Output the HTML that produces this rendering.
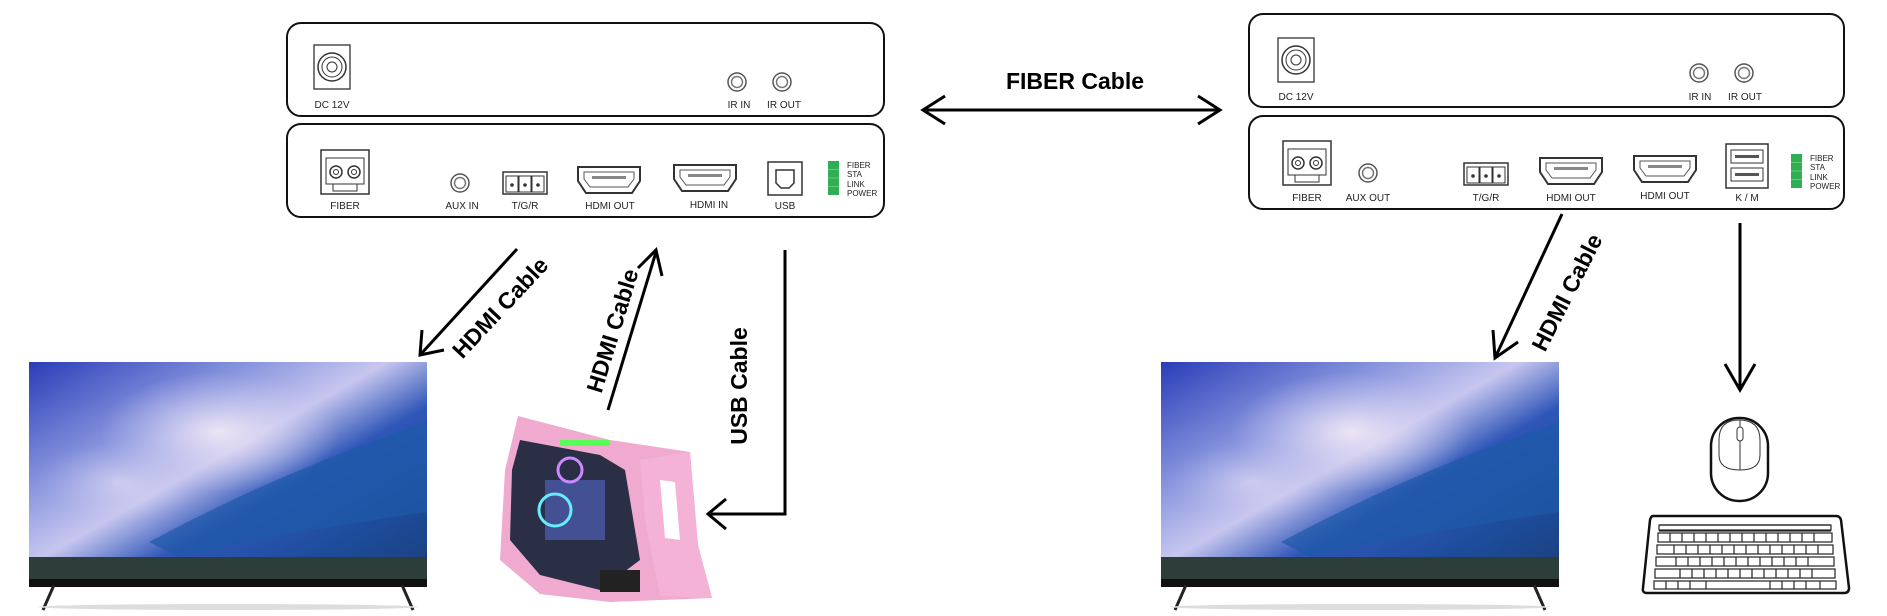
<!DOCTYPE html>
<html><head><meta charset="utf-8"><style>
html,body{margin:0;padding:0;background:#fff}
svg{display:block}
.l{font-family:"Liberation Sans",sans-serif;font-size:10px;fill:#222;text-anchor:middle}
.s{font-family:"Liberation Sans",sans-serif;font-size:8px;fill:#222}
.b{font-family:"Liberation Sans",sans-serif;font-weight:bold;font-size:23px;fill:#000;text-anchor:middle}
</style></head><body>
<svg width="1887" height="616" viewBox="0 0 1887 616" xmlns="http://www.w3.org/2000/svg">
<defs>
<linearGradient id="sky" x1="0" y1="0" x2="1" y2="1">
<stop offset="0" stop-color="#2a3db8"/><stop offset="0.3" stop-color="#8f9be0"/><stop offset="0.45" stop-color="#c7c6ef"/><stop offset="0.6" stop-color="#2f56b8"/><stop offset="0.8" stop-color="#1d4c9a"/><stop offset="1" stop-color="#1b3d78"/>
</linearGradient>
<radialGradient id="cl" cx="0.5" cy="0.5" r="0.5"><stop offset="0" stop-color="#f4eaf6" stop-opacity="0.9"/><stop offset="1" stop-color="#c8c8f0" stop-opacity="0"/></radialGradient>
<g id="tv">
<rect x="0" y="0" width="398" height="225" fill="url(#sky)"/>
<ellipse cx="190" cy="70" rx="120" ry="60" fill="url(#cl)"/>
<ellipse cx="90" cy="120" rx="80" ry="40" fill="url(#cl)" opacity="0.5"/>
<path d="M120 180 Q250 110 398 60 L398 150 Q260 170 150 195Z" fill="#1e5aa8" opacity="0.7"/>
<rect x="0" y="195" width="398" height="22" fill="#2d3e3a"/>
<rect x="0" y="217" width="398" height="8" fill="#111"/>
<path d="M25 223 L14 248 M373 223 L384 248" stroke="#222" stroke-width="3"/>
<ellipse cx="199" cy="245" rx="190" ry="3" fill="#ddd"/>
</g>
<g id="hdmi"><path d="M0 0 H62 V14 L54 26 H8 L0 14Z" fill="#fff" stroke="#333" stroke-width="2"/><path d="M6 5 H56 V12 L50 20 H12 L6 12Z" fill="none" stroke="#555"/><rect x="14" y="9" width="34" height="3" fill="#888"/></g>
<g id="fib"><rect x="0" y="0" width="48" height="44" fill="#fff" stroke="#333" stroke-width="1.5"/><rect x="5" y="8" width="38" height="26" fill="none" stroke="#333"/><circle cx="15" cy="22" r="6" fill="none" stroke="#333" stroke-width="1.5"/><circle cx="15" cy="22" r="2.5" fill="none" stroke="#333"/><circle cx="33" cy="22" r="6" fill="none" stroke="#333" stroke-width="1.5"/><circle cx="33" cy="22" r="2.5" fill="none" stroke="#333"/><rect x="12" y="34" width="24" height="7" fill="none" stroke="#333"/></g>
<g id="jack"><circle r="9" fill="#fff" stroke="#555" stroke-width="1.5"/><circle r="5.5" fill="none" stroke="#777" stroke-width="1.5"/></g>
<g id="dc"><rect x="0" y="0" width="36" height="44" fill="#fff" stroke="#333" stroke-width="1.3"/><circle cx="18" cy="22" r="14" fill="none" stroke="#333" stroke-width="1.5"/><circle cx="18" cy="22" r="10" fill="none" stroke="#333"/><circle cx="18" cy="22" r="5" fill="none" stroke="#333"/></g>
<g id="tgr"><rect x="0" y="0" width="44" height="22" fill="#fff" stroke="#333" stroke-width="1.5"/><rect x="3" y="4" width="12" height="16" fill="none" stroke="#333"/><rect x="16" y="4" width="12" height="16" fill="none" stroke="#333"/><rect x="29" y="4" width="12" height="16" fill="none" stroke="#333"/><circle cx="9" cy="13" r="1.8" fill="#333"/><circle cx="22" cy="13" r="1.8" fill="#333"/><circle cx="35" cy="13" r="1.8" fill="#333"/></g>
<g id="led"><rect x="0" y="0" width="11" height="34" fill="#2fae55"/><line x1="0" y1="8.5" x2="11" y2="8.5" stroke="#6c6"/><line x1="0" y1="17" x2="11" y2="17" stroke="#6c6"/><line x1="0" y1="25.5" x2="11" y2="25.5" stroke="#6c6"/>
<text class="s" x="19" y="7">FIBER</text><text class="s" x="19" y="16">STA</text><text class="s" x="19" y="26">LINK</text><text class="s" x="19" y="35">POWER</text></g>
</defs>

<!-- LEFT DEVICE -->
<rect x="287" y="23" width="597" height="93" rx="14" fill="#fff" stroke="#111" stroke-width="2"/>
<rect x="287" y="124" width="597" height="93" rx="14" fill="#fff" stroke="#111" stroke-width="2"/>
<use href="#dc" x="314" y="45"/><text class="l" x="332" y="108">DC 12V</text>
<use href="#jack" x="737" y="82"/><text class="l" x="739" y="108">IR IN</text>
<use href="#jack" x="782" y="82"/><text class="l" x="784" y="108">IR OUT</text>
<use href="#fib" x="321" y="150"/><text class="l" x="345" y="209">FIBER</text>
<use href="#jack" x="460" y="183"/><text class="l" x="462" y="209">AUX IN</text>
<use href="#tgr" x="503" y="172"/><text class="l" x="525" y="209">T/G/R</text>
<use href="#hdmi" x="578" y="167"/><text class="l" x="610" y="209">HDMI OUT</text>
<use href="#hdmi" x="674" y="165"/><text class="l" x="709" y="208">HDMI IN</text>
<rect x="768" y="162" width="34" height="33" fill="#fff" stroke="#333" stroke-width="1.5"/><path d="M776 170 H794 V183 L789 188 H781 L776 183Z" fill="none" stroke="#333" stroke-width="1.5"/>
<text class="l" x="785" y="209">USB</text>
<use href="#led" x="828" y="161"/>

<!-- RIGHT DEVICE -->
<rect x="1249" y="14" width="595" height="93" rx="14" fill="#fff" stroke="#111" stroke-width="2"/>
<rect x="1249" y="116" width="595" height="93" rx="14" fill="#fff" stroke="#111" stroke-width="2"/>
<use href="#dc" x="1278" y="38"/><text class="l" x="1296" y="100">DC 12V</text>
<use href="#jack" x="1699" y="73"/><text class="l" x="1700" y="100">IR IN</text>
<use href="#jack" x="1744" y="73"/><text class="l" x="1745" y="100">IR OUT</text>
<use href="#fib" x="1283" y="141"/><text class="l" x="1307" y="201">FIBER</text>
<use href="#jack" x="1368" y="173"/><text class="l" x="1368" y="201">AUX OUT</text>
<use href="#tgr" x="1464" y="163"/><text class="l" x="1486" y="201">T/G/R</text>
<use href="#hdmi" x="1540" y="158"/><text class="l" x="1571" y="201">HDMI OUT</text>
<use href="#hdmi" x="1634" y="156"/><text class="l" x="1665" y="199">HDMI OUT</text>
<rect x="1726" y="144" width="42" height="44" fill="#fff" stroke="#333" stroke-width="1.5"/>
<rect x="1731" y="150" width="32" height="13" fill="#fff" stroke="#333"/><rect x="1731" y="168" width="32" height="13" fill="#fff" stroke="#333"/>
<rect x="1735" y="155" width="24" height="3" fill="#555"/><rect x="1735" y="173" width="24" height="3" fill="#555"/>
<text class="l" x="1747" y="201">K / M</text>
<use href="#led" x="1791" y="154"/>

<!-- FIBER arrow -->
<text class="b" x="1075" y="89">FIBER Cable</text>
<g stroke="#000" stroke-width="3" fill="none">
<line x1="923" y1="110" x2="1220" y2="110"/>
<polyline points="945,96 923,110 945,124"/><polyline points="1198,96 1220,110 1198,124"/>

<!-- left HDMI to TV -->
<line x1="517" y1="249" x2="420" y2="355"/>
<polyline points="422,330 420,355 444,350"/>
<!-- HDMI from PC -->
<line x1="608" y1="410" x2="656" y2="252"/>
<polyline points="638,268 656,250 662,276"/>
<!-- USB -->
<polyline points="785,250 785,514 710,514"/>
<polyline points="726,499 708,514 726,529"/>
<!-- right HDMI -->
<line x1="1562" y1="214" x2="1495" y2="358"/>
<polyline points="1493,330 1495,358 1518,342"/>
<!-- K/M -->
<line x1="1740" y1="223" x2="1740" y2="390"/>
<polyline points="1725,364 1740,390 1755,364"/>
</g>
<text class="b" transform="translate(506,313) rotate(-47)">HDMI Cable</text>
<text class="b" transform="translate(620,333) rotate(-73)">HDMI Cable</text>
<text class="b" transform="translate(747,386) rotate(-90)">USB Cable</text>
<text class="b" transform="translate(1574,296) rotate(-63)">HDMI Cable</text>

<!-- TVs -->
<use href="#tv" x="29" y="362"/>
<use href="#tv" x="1161" y="362"/>

<!-- PC case -->
<g>
<polygon points="518,416 610,440 690,452 698,545 712,598 610,602 540,594 500,560 505,470" fill="#f0a9cf"/>
<polygon points="520,440 600,455 625,470 640,560 600,590 540,575 510,540 512,470" fill="#2b2f45"/>
<rect x="545" y="480" width="60" height="60" fill="#4a5aa8" opacity="0.8"/>
<circle cx="555" cy="510" r="16" fill="none" stroke="#6ef" stroke-width="3"/>
<circle cx="570" cy="470" r="12" fill="none" stroke="#c8f" stroke-width="3"/>
<rect x="560" y="440" width="50" height="6" fill="#5f5"/>
<rect x="600" y="570" width="40" height="22" fill="#222"/>
<polygon points="640,460 690,452 698,545 712,598 660,596 645,520" fill="#f4b2d6"/>
<polygon points="660,480 675,482 680,540 665,538" fill="#fff"/>
</g>

<!-- mouse -->
<rect x="1711" y="418" width="57" height="83" rx="28" fill="#fff" stroke="#111" stroke-width="2.5"/>
<path d="M1719 440 Q1719 420 1739 420 Q1760 420 1760 440 V455 Q1760 470 1740 470 Q1719 470 1719 455Z" fill="none" stroke="#333" stroke-width="1"/>
<line x1="1740" y1="420" x2="1740" y2="470" stroke="#333"/>
<rect x="1737" y="427" width="6" height="14" rx="3" fill="#fff" stroke="#333"/>
<!-- keyboard -->
<path d="M1653 516 H1836 Q1840 516 1841 520 L1849 588 Q1849 593 1844 593 H1647 Q1642 593 1643 588 L1650 520 Q1651 516 1653 516Z" fill="#fff" stroke="#111" stroke-width="2.5"/>
<g fill="none" stroke="#222" stroke-width="1.2">
<path d="M1660 525 H1830 M1659 531 H1831"/>
<rect x="1659" y="525" width="172" height="5"/>
<rect x="1658" y="533" width="174" height="9"/>
<rect x="1657" y="545" width="176" height="9"/>
<rect x="1656" y="557" width="178" height="9"/>
<rect x="1655" y="569" width="180" height="9"/>
<rect x="1654" y="581" width="182" height="8"/>
<path d="M1670 533 V542 M1682 533 V542 M1694 533 V542 M1706 533 V542 M1718 533 V542 M1730 533 V542 M1742 533 V542 M1754 533 V542 M1766 533 V542 M1778 533 V542 M1790 533 V542 M1802 533 V542 M1814 533 V542"/>
<path d="M1674 545 V554 M1686 545 V554 M1698 545 V554 M1710 545 V554 M1722 545 V554 M1734 545 V554 M1746 545 V554 M1758 545 V554 M1770 545 V554 M1782 545 V554 M1794 545 V554 M1806 545 V554 M1818 545 V554"/>
<path d="M1676 557 V566 M1688 557 V566 M1700 557 V566 M1712 557 V566 M1724 557 V566 M1736 557 V566 M1748 557 V566 M1760 557 V566 M1772 557 V566 M1784 557 V566 M1796 557 V566 M1808 557 V566"/>
<path d="M1680 569 V578 M1692 569 V578 M1704 569 V578 M1716 569 V578 M1728 569 V578 M1740 569 V578 M1752 569 V578 M1764 569 V578 M1776 569 V578 M1788 569 V578 M1800 569 V578 M1812 569 V578"/>
<path d="M1666 581 V589 M1678 581 V589 M1690 581 V589 M1706 581 V589 M1770 581 V589 M1782 581 V589 M1794 581 V589 M1806 581 V589 M1820 581 V589"/>
</g>
</svg>
</body></html>
